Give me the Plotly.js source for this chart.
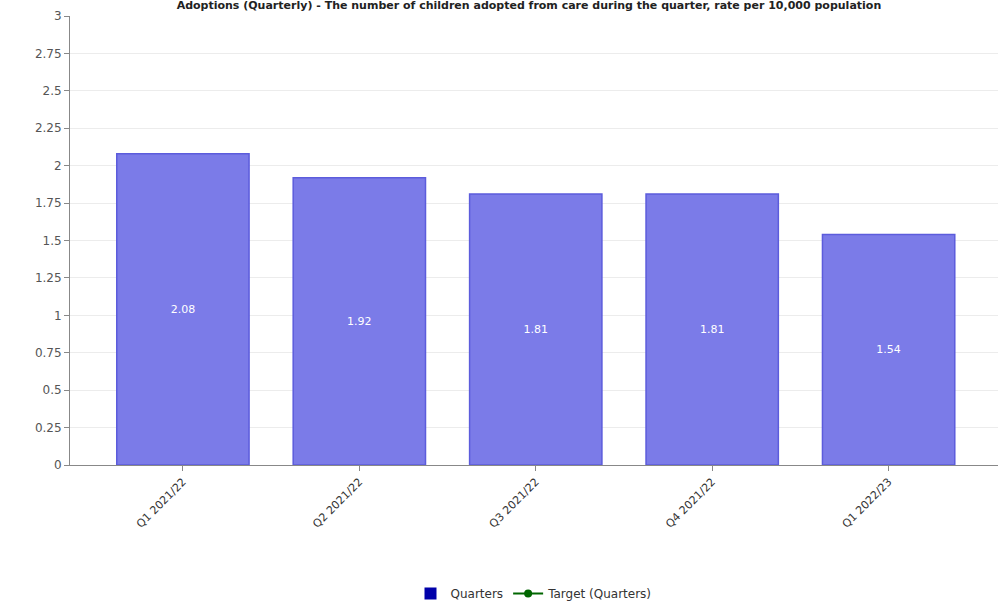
<!DOCTYPE html>
<html>
<head>
<meta charset="utf-8">
<script src="https://cdn.plot.ly/plotly-3.0.1.min.js"></script>
<style>html,body{margin:0;padding:0;background:#fff;}#chart{width:998px;height:608px;}</style>
</head>
<body>
<div id="chart"></div>
<script>
var categories = ["Q1 2021/22", "Q2 2021/22", "Q3 2021/22", "Q4 2021/22", "Q1 2022/23"];
var quarterValues = [2.08, 1.92, 1.81, 1.81, 1.54];
var quarterLabels = ["2.08", "1.92", "1.81", "1.81", "1.54"];
var targetValues = [null, null, null, null, null];
var yTickValues = [0, 0.25, 0.5, 0.75, 1, 1.25, 1.5, 1.75, 2, 2.25, 2.5, 2.75, 3];
var yTickLabels = ["0", "0.25", "0.5", "0.75", "1", "1.25", "1.5", "1.75", "2", "2.25", "2.5", "2.75", "3"];
var chartTitle = "Adoptions (Quarterly) - The number of children adopted from care during the quarter, rate per 10,000 population";

var font = "DejaVu Sans, Verdana, sans-serif";

var traces = [
  {
    type: "bar",
    x: categories,
    y: quarterValues,
    text: quarterLabels,
    textposition: "inside",
    insidetextanchor: "middle",
    textfont: {color: "#ffffff", size: 11, family: font},
    width: 0.75,
    marker: {color: "#7b7be8", line: {color: "#5c5cdc", width: 1.5}},
    showlegend: false,
    hoverinfo: "x+y"
  },
  {
    type: "bar",
    x: categories,
    y: targetValues,
    name: "Quarters",
    marker: {color: "#0000aa"},
    showlegend: true
  },
  {
    type: "scatter",
    mode: "lines+markers",
    x: categories,
    y: targetValues,
    name: "Target (Quarters)",
    line: {color: "#006600", width: 2},
    marker: {color: "#006600", size: 8},
    showlegend: true
  }
];

var layout = {
  width: 998,
  height: 608,
  paper_bgcolor: "#ffffff",
  plot_bgcolor: "#ffffff",
  font: {family: font, size: 12, color: "#444"},
  barmode: "overlay",
  margin: {l: 70, r: 0, t: 16, b: 143},
  title: {
    text: chartTitle,
    font: {family: font, size: 11, color: "#222", weight: "bold"},
    x: 0.53, xanchor: "center",
    y: 1, yref: "container", yanchor: "top",
    pad: {t: 1}
  },
  xaxis: {
    type: "category",
    range: [-0.64, 4.62],
    tickangle: -45,
    ticks: "outside",
    ticklen: 5,
    tickcolor: "#888",
    showline: true,
    linecolor: "#888",
    linewidth: 1,
    showgrid: false,
    tickfont: {family: font, size: 11, color: "#333"}
  },
  yaxis: {
    range: [0, 3],
    tickvals: yTickValues,
    ticktext: yTickLabels,
    ticks: "outside",
    ticklen: 5,
    tickcolor: "#888",
    showline: true,
    linecolor: "#888",
    linewidth: 1,
    showgrid: true,
    gridcolor: "#ececec",
    zeroline: false,
    tickfont: {family: font, size: 12, color: "#555"}
  },
  legend: {
    orientation: "h",
    x: 0.5, xanchor: "center",
    y: 0, yref: "container", yanchor: "bottom",
    font: {family: font, size: 12, color: "#333"}
  }
};

Plotly.newPlot("chart", traces, layout, {displayModeBar: false, staticPlot: true});
</script>
</body>
</html>
